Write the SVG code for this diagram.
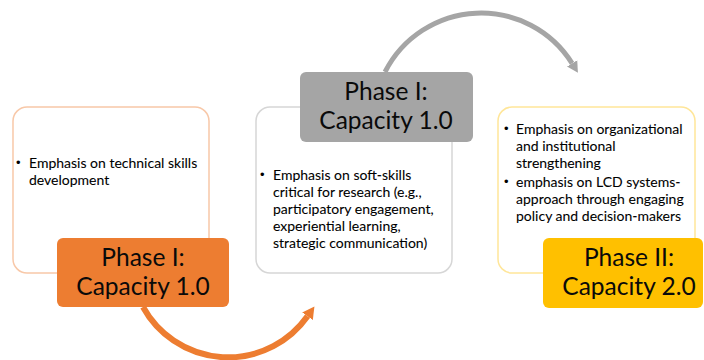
<svg xmlns="http://www.w3.org/2000/svg" width="704" height="360" viewBox="0 0 704 360">
  <defs>
    <style>
      .card { fill: #ffffff; stroke-width: 1.5; }
      .body { font-family: Lato, "Liberation Sans", sans-serif; font-size: 14px; fill: #000000; stroke: #000000; stroke-width: 0.08; }
      .dot { font-family: "Liberation Sans", sans-serif; font-size: 13px; fill: #000000; }
      .label { font-family: Lato, "Liberation Sans", sans-serif; font-size: 24.5px; fill: #0a0a0a; text-anchor: middle; }
      .arc { fill: none; }
    </style>
    <marker id="headOrange" markerUnits="userSpaceOnUse" markerWidth="14" markerHeight="14" viewBox="0 -7 14 14" refX="0" refY="0" orient="auto">
      <path d="M0,-6.5 L12,0 L0,6.5 z" fill="#ED7D31"/>
    </marker>
    <marker id="headGray" markerUnits="userSpaceOnUse" markerWidth="14" markerHeight="14" viewBox="0 -7 14 14" refX="0" refY="0" orient="auto">
      <path d="M0,-6 L11,0 L0,6 z" fill="#A5A5A5"/>
    </marker>
  </defs>

  <rect width="704" height="360" fill="#ffffff"/>

  <!-- curved transition arrows -->
  <g id="connectors">
    <path class="arc" d="M143,307 A97.25,97.25 0 0 0 307.5,316.3" stroke="#ED7D31" stroke-width="6" marker-end="url(#headOrange)"/>
    <path class="arc" d="M385,72 A107.6,107.6 0 0 1 572.1,63.4" stroke="#A5A5A5" stroke-width="5" marker-end="url(#headGray)"/>
  </g>

  <!-- phase 1: technical skills -->
  <g id="card-technical">
    <rect class="card" x="13" y="107" width="196" height="166" rx="14" stroke="#F8C8A8"/>
    <text class="dot" x="16" y="167">•</text>
    <text class="body" x="29" y="168">Emphasis on technical skills</text>
    <text class="body" x="29" y="185">development</text>
  </g>
  <g id="label-phase1-orange">
    <rect x="57" y="238" width="172" height="69" rx="6" fill="#ED7D31"/>
    <text class="label" x="143" y="266">Phase I:</text>
    <text class="label" x="143" y="295">Capacity 1.0</text>
  </g>

  <!-- phase 1: soft skills -->
  <g id="card-soft-skills">
    <rect class="card" x="256" y="107" width="196" height="166" rx="14" stroke="#D6D6D6"/>
    <text class="dot" x="260" y="179">•</text>
    <text class="body" x="273" y="180">Emphasis on soft-skills</text>
    <text class="body" x="273" y="197">critical for research (e.g.,</text>
    <text class="body" x="273" y="214">participatory engagement,</text>
    <text class="body" x="273" y="231">experiential learning,</text>
    <text class="body" x="273" y="248">strategic communication)</text>
  </g>
  <g id="label-phase1-gray">
    <rect x="300" y="72" width="173" height="70" rx="6" fill="#A5A5A5"/>
    <text class="label" x="386" y="100">Phase I:</text>
    <text class="label" x="386" y="129">Capacity 1.0</text>
  </g>

  <!-- phase 2: systems approach -->
  <g id="card-systems">
    <rect class="card" x="498" y="107" width="197" height="166" rx="14" stroke="#FFE699"/>
    <text class="dot" x="504" y="133">•</text>
    <text class="body" x="516" y="134">Emphasis on organizational</text>
    <text class="body" x="516" y="151">and institutional</text>
    <text class="body" x="516" y="168">strengthening</text>
    <text class="dot" x="504" y="186">•</text>
    <text class="body" x="516" y="187">emphasis on LCD systems-</text>
    <text class="body" x="516" y="204">approach through engaging</text>
    <text class="body" x="516" y="221">policy and decision-makers</text>
  </g>
  <g id="label-phase2">
    <rect x="543" y="238" width="160" height="70" rx="6" fill="#FFC000"/>
    <text class="label" x="629" y="266">Phase II:</text>
    <text class="label" x="629" y="295">Capacity 2.0</text>
  </g>
</svg>
